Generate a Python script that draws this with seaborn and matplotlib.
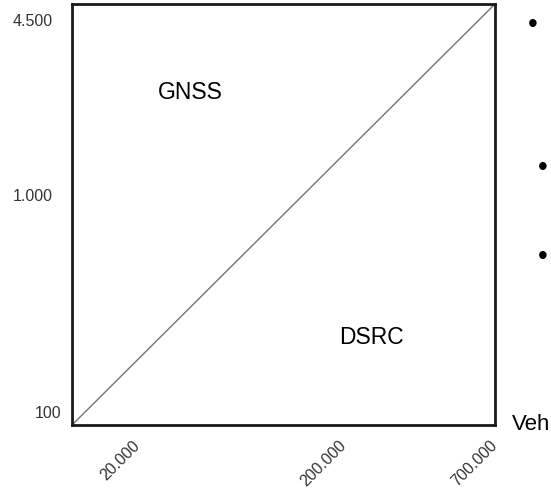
import matplotlib
matplotlib.use("Agg")
import matplotlib.pyplot as plt
import matplotlib.transforms as mtransforms
import seaborn as sns
import pandas as pd

# data
vehicle_labels = ["20.000", "200.000", "700.000"]
value_labels = ["100", "1.000", "4.500"]
region_names = ["GNSS", "DSRC"]
boundary_x = [0.0, 1.0]
boundary_y = [0.0, 1.0]

boundary = pd.DataFrame({"x": boundary_x, "y": boundary_y})

sns.set_style("white")
plt.rcParams["font.family"] = ["Liberation Sans", "DejaVu Sans"]

fig = plt.figure(figsize=(5.51, 4.91), dpi=100)
ax = fig.add_axes([0.1307, 0.1344, 0.8984 - 0.1307, 0.9919 - 0.1344])

sns.lineplot(data=boundary, x="x", y="y", color="#737373", linewidth=1.0, ax=ax)
ax.set_xlim(0, 1)
ax.set_ylim(0, 1)

for side in ["left", "bottom", "right", "top"]:
    ax.spines[side].set_visible(True)
    ax.spines[side].set_color("#1a1a1a")
    ax.spines[side].set_linewidth(2.0)

# schematic tick placement
ax.set_xticks([0.154, 0.643, 1.0])
ax.set_xticklabels(vehicle_labels, rotation=45, ha="right",
                   rotation_mode="anchor", va="center")
ax.set_yticks([0.031, 0.546, 0.962])
ax.set_yticklabels(value_labels)
ax.tick_params(axis="x", length=0, pad=13, labelsize=11.5, labelcolor="#333333")
ax.tick_params(axis="y", length=0, pad=14, labelsize=11.5, labelcolor="#333333")
ax.set_xlabel("")
ax.set_ylabel("")

# the "100" label sits a bit closer to the axis
lbl = ax.get_yticklabels()[0]
lbl.set_transform(lbl.get_transform() + mtransforms.ScaledTranslation(9 / 100, 0, fig.dpi_scale_trans))

ax.text(0.279, 0.789, region_names[0], fontsize=16.5, color="black",
        ha="center", va="center", transform=ax.transAxes)
ax.text(0.709, 0.209, region_names[1], fontsize=16.5, color="black",
        ha="center", va="center", transform=ax.transAxes)

# cut-off text from the surrounding slide
fig.text(512 / 551, 1 - 430 / 491, "Veh", fontsize=16, color="black", ha="left", va="baseline")
for bx, by in [(533, 25), (543, 168), (543, 257)]:
    fig.text(bx / 551, 1 - by / 491, "\u2022", fontsize=20, color="black", ha="center", va="center")

fig.savefig("out.png", dpi=100)
